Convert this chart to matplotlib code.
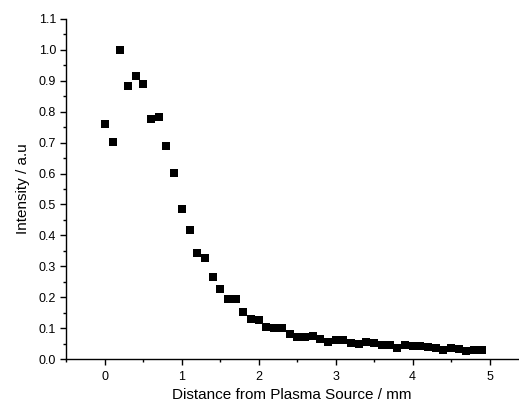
import numpy as np
import matplotlib.pyplot as plt
from matplotlib.ticker import MultipleLocator

plt.rcParams['font.family'] = ['Liberation Sans', 'DejaVu Sans']

# distance from plasma source (mm) and normalised intensity
distance = np.round(np.arange(0, 5.0, 0.1), 1)
intensity = [0.761, 0.703, 0.999, 0.883, 0.916, 0.889, 0.778, 0.783, 0.689, 0.602,
             0.485, 0.416, 0.342, 0.326, 0.267, 0.228, 0.195, 0.195, 0.153, 0.128,
             0.126, 0.105, 0.101, 0.101, 0.080, 0.072, 0.070, 0.076, 0.065, 0.055,
             0.061, 0.061, 0.053, 0.048, 0.054, 0.051, 0.047, 0.047, 0.037, 0.044,
             0.041, 0.042, 0.039, 0.035, 0.029, 0.036, 0.031, 0.025, 0.028, 0.030]

fig = plt.figure(figsize=(5.19, 4.03), dpi=100)
ax = fig.add_axes([0.128, 0.109, 0.870, 0.844])

ax.plot(distance, intensity, 's', color='black', markersize=5.8, markeredgewidth=0)

ax.set_xlim(-0.5, 5.37)
ax.set_ylim(0, 1.1)
ax.xaxis.set_major_locator(MultipleLocator(1))
ax.xaxis.set_minor_locator(MultipleLocator(0.5))
ax.yaxis.set_major_locator(MultipleLocator(0.1))
ax.yaxis.set_minor_locator(MultipleLocator(0.05))
ax.yaxis.set_major_formatter(plt.FormatStrFormatter('%.1f'))

ax.spines['top'].set_visible(False)
ax.spines['right'].set_visible(False)
for s in ['left', 'bottom']:
    ax.spines[s].set_linewidth(1.0)

ax.tick_params(which='major', direction='out', length=4, width=1, labelsize=9)
ax.tick_params(axis='x', which='major', pad=4.5)
ax.tick_params(which='minor', direction='out', length=2.5, width=1)

ax.set_xlabel('Distance from Plasma Source / mm', fontsize=11, labelpad=4)
ax.set_ylabel('Intensity / a.u', fontsize=11, labelpad=6)

fig.savefig('out.png', dpi=100)
